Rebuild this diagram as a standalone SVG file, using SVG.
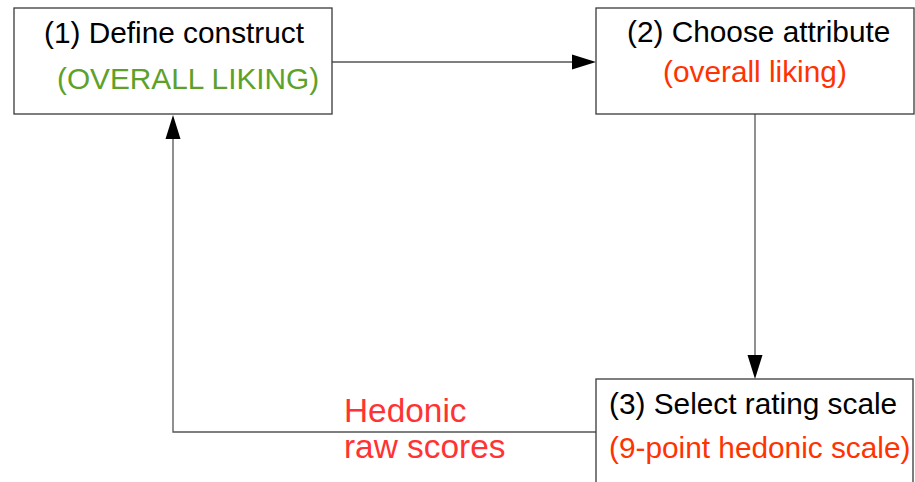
<svg xmlns="http://www.w3.org/2000/svg" width="915" height="482" viewBox="0 0 915 482">
<style>
.box{fill:#fff;stroke:#3a3a3a;stroke-width:1.3}
.t{font-family:"Liberation Sans",Arial,sans-serif;font-size:29.8px;fill:#000}
.g{fill:#5ea12a}
.r{fill:#ff3300}
.h{font-family:"Liberation Sans",Arial,sans-serif;font-size:33.4px;fill:#ff3333}
.c{fill:none;stroke:#555;stroke-width:1.3}
.ah{fill:#000}
</style>
<rect width="915" height="482" fill="#fff"/>
<g id="connectors">
<line class="c" x1="332" y1="62" x2="574" y2="62"/>
<polygon class="ah" points="596,62 572,54.5 572,69.5"/>
<line class="c" x1="755" y1="114" x2="755" y2="357"/>
<polygon class="ah" points="755,379 747.5,355 762.5,355"/>
<polyline class="c" points="596,432 173,432 173,136"/>
<polygon class="ah" points="173,115 165.5,139 180.5,139"/>
<g id="edge-label">
<text class="h" x="344" y="422">Hedonic</text>
<text class="h" x="344" y="458">raw scores</text>
</g>
</g>
<g id="node1">
<rect class="box" x="14" y="8" width="318" height="106"/>
<text class="t" x="44" y="43">(1) Define construct</text>
<text class="t g" x="57" y="89">(OVERALL LIKING)</text>
</g>
<g id="node2">
<rect class="box" x="596" y="8" width="318" height="106"/>
<text class="t" x="627" y="42">(2) Choose attribute</text>
<text class="t r" x="663" y="82">(overall liking)</text>
</g>
<g id="node3">
<rect class="box" x="596" y="379" width="317" height="120"/>
<text class="t" x="609" y="414">(3) Select rating scale</text>
<text class="t r" x="609" y="458">(9-point hedonic scale)</text>
</g>
</svg>
